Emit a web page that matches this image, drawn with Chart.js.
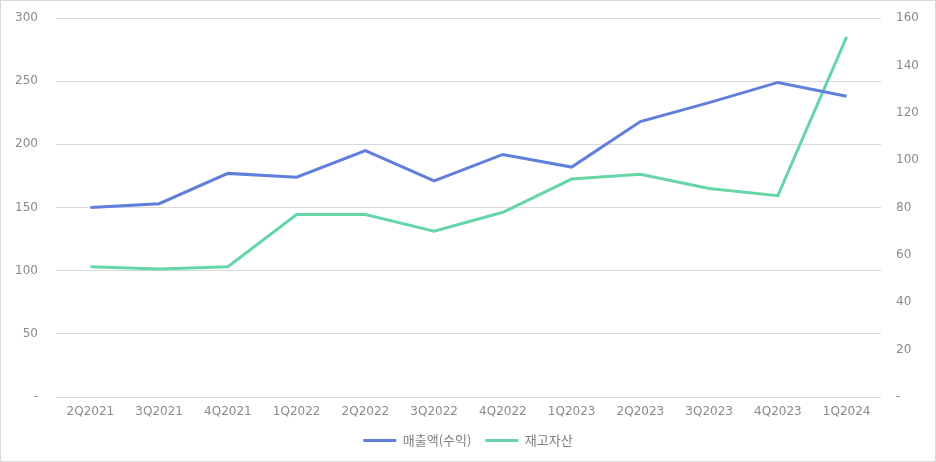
<!DOCTYPE html>
<html>
<head>
<meta charset="utf-8">
<script src="https://cdn.jsdelivr.net/npm/chart.js@4"></script>
<style>
html,body{margin:0;padding:0;background:#fff;}
#wrap{width:936px;height:462px;position:relative;}
</style>
</head>
<body>
<div id="wrap"><canvas id="c" width="936" height="462"></canvas></div>
<script>
const categories = ['2Q2021','3Q2021','4Q2021','1Q2022','2Q2022','3Q2022','4Q2022','1Q2023','2Q2023','3Q2023','4Q2023','1Q2024'];
const revenue = [150, 153, 177, 174, 195, 171, 192, 182, 218, 233, 249, 238];
const inventory = [55, 54, 55, 77, 77, 70, 78, 92, 94, 88, 85, 152];
const seriesNames = ['매출액(수익)', '재고자산'];

const borderPlugin = {
  id: 'bg',
  beforeDraw(chart) {
    const ctx = chart.ctx;
    ctx.save();
    ctx.fillStyle = '#fff';
    ctx.fillRect(0, 0, chart.width, chart.height);
    ctx.strokeStyle = '#d9d9d9';
    ctx.lineWidth = 1;
    ctx.strokeRect(0.5, 0.5, chart.width - 1, chart.height - 1);
    ctx.restore();
  }
};

const tickFont = {family: 'DejaVu Sans', size: 12};
const tickColor = '#8a8a8a';

new Chart(document.getElementById('c'), {
  type: 'line',
  data: {
    labels: categories,
    datasets: [
      {label: seriesNames[0], data: revenue, yAxisID: 'y', borderColor: '#5f7fdb', backgroundColor: '#5f7fdb', borderWidth: 3, pointRadius: 0, tension: 0},
      {label: seriesNames[1], data: inventory, yAxisID: 'y1', borderColor: '#66d6a8', backgroundColor: '#66d6a8', borderWidth: 3, pointRadius: 0, tension: 0}
    ]
  },
  options: {
    responsive: false,
    animation: false,
    layout: {padding: {top: 18, left: 0, right: 0, bottom: 5}},
    plugins: {
      legend: {
        position: 'bottom',
        labels: {
          usePointStyle: true,
          pointStyle: 'line',
          pointStyleWidth: 33,
          boxHeight: 3,
          color: '#7f7f7f',
          font: {family: 'Noto Sans CJK KR', size: 13},
          padding: 14
        }
      },
      tooltip: {enabled: false}
    },
    scales: {
      x: {
        offset: true,
        grid: {display: false, drawTicks: false, offset: true},
        border: {display: false},
        ticks: {color: tickColor, font: tickFont, padding: 8, maxRotation: 0},
        afterFit(s) { s.height = 23; }
      },
      y: {
        position: 'left',
        min: 0, max: 300,
        grid: {color: '#d9d9d9', drawTicks: false},
        border: {display: false},
        ticks: {stepSize: 50, color: tickColor, font: tickFont, padding: 18,
          callback: v => v === 0 ? '-' : v},
        afterFit(s) { s.width = 56; s.paddingTop = 0; s.paddingBottom = 0; }
      },
      y1: {
        position: 'right',
        min: 0, max: 160,
        grid: {display: false, drawTicks: false},
        border: {display: false},
        ticks: {stepSize: 20, color: tickColor, font: tickFont, padding: 15,
          callback: v => v === 0 ? '-' : v},
        afterFit(s) { s.width = 55; s.paddingTop = 0; s.paddingBottom = 0; }
      }
    }
  },
  plugins: [borderPlugin]
});
</script>
</body>
</html>
